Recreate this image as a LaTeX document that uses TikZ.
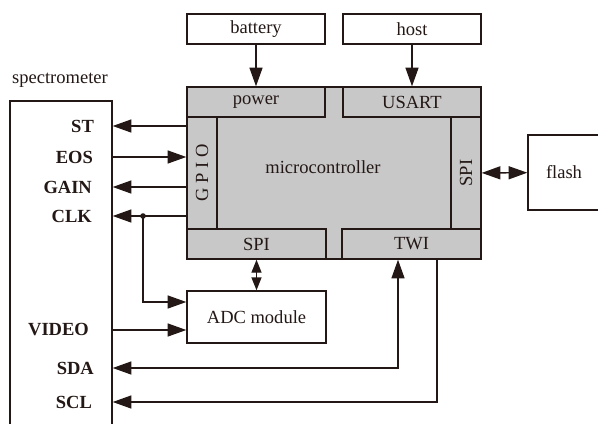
\documentclass[tikz,border=0pt]{standalone}
\usepackage{fontspec}
\setmainfont{Liberation Serif}
\usetikzlibrary{arrows.meta,calc}
\definecolor{ink}{RGB}{35,24,21}
\definecolor{chip}{RGB}{200,200,200}
\tikzset{
  >={Triangle[length=5.6mm,width=3.9mm]},
  every node/.style={font=\fontsize{15.8}{19}\selectfont,text=ink},
  unit/.style={draw=ink,line width=1.2pt,fill=white,minimum width=#1,minimum height=9mm,inner sep=0pt},
  unit/.default=41.4mm,
  port/.style={draw=ink,line width=1.2pt,fill=chip,minimum width=#1,minimum height=9mm,inner sep=0pt},
  port/.default=41.4mm,
  pinlabel/.style={anchor=east,font=\fontsize{15.8}{19}\selectfont\bfseries},
  sig/.style={->,draw=ink,line width=1.2pt},
  sigboth/.style={<->,draw=ink,line width=1.2pt},
  sigshort/.style={{Triangle[length=3.9mm,width=3mm]}-{Triangle[length=3.9mm,width=3mm]},draw=ink,line width=1.2pt},
}
\begin{document}
\begin{tikzpicture}[x=0.03cm,y=-0.03cm]
  \clip (0,0) rectangle (598,423);
  \fill[white] (0,0) rectangle (598,423);
  % supply and host
  \node[unit] (battery) at (256,29) {battery};
  \node[unit] (host) at (412,29) {host};
  % microcontroller with its ports
  \node[draw=ink,line width=1.2pt,fill=chip,minimum width=88.2mm,minimum height=51.6mm] (mcu) at (334,173) {};
  \node (mcutext) at (323,167) {microcontroller};
  \node[port] (power) at (256,102) {power};
  \node[port] (usart) at (412,102) {USART};
  \node[port=33.6mm,rotate=90] (gpio) at (202,173) {G P I O};
  \node[port=33.6mm,rotate=90] (rspi) at (466,173) {SPI};
  \node[port=41.7mm] (bspi) at (256.5,244) {SPI};
  \node[port=41.7mm] (twi) at (411.5,244) {TWI};
  \node[unit=21.6mm,minimum height=22.5mm] (flash) at (564,172.5) {flash};
  \node[unit=41.7mm,minimum height=15.6mm] (adc) at (256.5,317) {ADC module};
  % spectrometer, open at the bottom
  \node[draw=ink,line width=1.2pt,minimum width=30.6mm,minimum height=98.7mm] (spec) at (61,265.5) {};
  \node (spectitle) at (60,80) {spectrometer};
  \node[pinlabel] (st) at (98,126) {ST};
  \node[pinlabel] (eos) at (97,157) {EOS};
  \node[pinlabel] (gain) at (96,187) {GAIN};
  \node[pinlabel] (clk) at (96,216) {CLK};
  \node[pinlabel] (video) at (93,330) {VIDEO};
  \node[pinlabel] (sda) at (98,368) {SDA};
  \node[pinlabel] (scl) at (96,402) {SCL};
  \coordinate (clkdot) at (143,216);
  \draw[sig] (battery) -- (power);
  \draw[sig] (host) -- (usart);
  \draw[sig] (mcu.west |- st) -- (spec.east |- st);
  \draw[sig] (spec.east |- eos) -- (mcu.west |- eos);
  \draw[sig] (mcu.west |- gain) -- (spec.east |- gain);
  \draw[sig] (mcu.west |- clk) -- (spec.east |- clk);
  \fill[ink] (clkdot) circle (2.8);
  \draw[sig] (clkdot) |- ([yshift=4.5mm]adc.west);
  \draw[sig] (spec.east |- video) -- (adc.west |- video);
  \draw[sigshort] (bspi) -- (adc);
  \draw[sigboth] (rspi) -- (flash);
  \draw[sigboth] ([xshift=-4.05mm]twi.south) |- (spec.east |- sda);
  \draw[sig] ([xshift=7.65mm]twi.south) |- (spec.east |- scl);
\end{tikzpicture}
\end{document}
